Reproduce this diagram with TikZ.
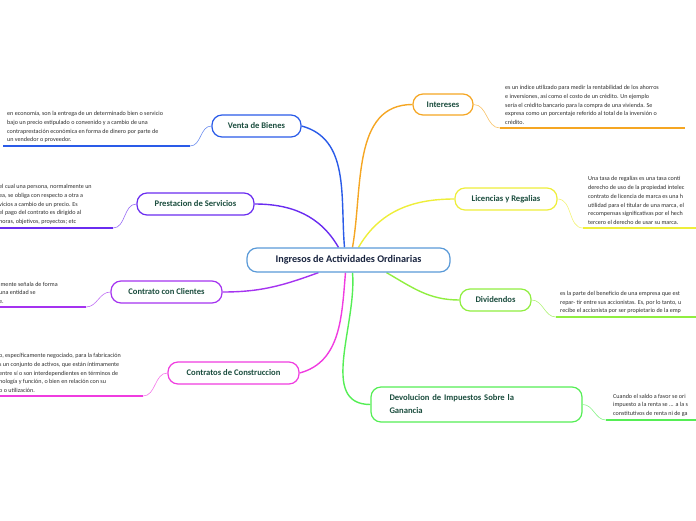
\documentclass[tikz,border=0pt]{standalone}
\usepackage{fontspec}
\setmainfont{Carlito}
\usetikzlibrary{positioning}
\usetikzlibrary{backgrounds}

\definecolor{cventa}{HTML}{2A5BE8}
\definecolor{cprest}{HTML}{6A2CF0}
\definecolor{cclien}{HTML}{A533F0}
\definecolor{cconst}{HTML}{F03CE0}
\definecolor{cinter}{HTML}{F5A623}
\definecolor{clicen}{HTML}{EEEE3A}
\definecolor{cdivid}{HTML}{90EE40}
\definecolor{cdevol}{HTML}{55EE55}
\definecolor{ccent}{HTML}{5A9AD8}
\definecolor{titlegreen}{HTML}{1B4D3E}
\definecolor{titlenavy}{HTML}{1A2540}
\definecolor{bodytext}{HTML}{2E2E2E}

\begin{document}
\begin{tikzpicture}[
                x=1pt, y=-1pt,
                topic/.style = {
                    draw=#1,
                    line width = 1.2pt,
                    rounded corners = 10pt,
                    fill = white,
                    font = \fontsize{8.6}{10}\selectfont\bfseries,
                    text = titlegreen,
                    inner xsep = 0pt,
                    inner ysep = 0pt
                },
                body/.style = {
                    anchor = south west,
                    align = left,
                    inner sep = 0pt,
                    text = bodytext,
                    font = \fontsize{6.1}{8.8}\selectfont
                },
                branch/.style = {draw=#1, line width = 1.4pt},
                twig/.style = {draw=#1!70, line width = 0.6pt},
                underline/.style = {draw=#1, line width = 1.6pt}
            ]
            \useasboundingbox (0,0) rectangle (696,520);

            % central topic
            \node[topic=ccent, minimum width=203pt, minimum height=24pt, text=titlenavy,
                  font=\fontsize{10.2}{12}\selectfont\bfseries] (center) at (348.5,260) {Ingresos de Actividades Ordinarias};

            % left topics
            \node[topic=cventa, minimum width=89pt, minimum height=22pt] (venta) at (256.5,126) {Venta de Bienes};
            \node[topic=cprest, minimum width=117pt, minimum height=22pt] (prest) at (195.5,204) {Prestacion de Servicios};
            \node[topic=cclien, minimum width=111pt, minimum height=22pt] (clien) at (166.5,292) {Contrato con Clientes};
            \node[topic=cconst, minimum width=131pt, minimum height=22pt] (const) at (233.5,373) {Contratos de Construccion};

            % right topics
            \node[topic=cinter, minimum width=60pt, minimum height=21pt] (inter) at (443,104.5) {Intereses};
            \node[topic=clicen, minimum width=102pt, minimum height=22pt] (licen) at (506,199) {Licencias y Regalias};
            \node[topic=cdivid, minimum width=71pt, minimum height=22pt] (divid) at (495.5,300) {Dividendos};
            \node[topic=cdevol, minimum width=211pt, minimum height=35pt, text width=174pt, align=left,
                  font=\fontsize{8.6}{13}\selectfont\bfseries] (devol) at (476.5,404.5) {Devolucion de Impuestos Sobre la\\Ganancia};

            % branches
            \begin{scope}[on background layer]
            \draw[branch=cventa] ([xshift=-4pt]center.north) to [out=95,in=-15] (venta.east);
            \draw[branch=cprest] ([xshift=-10pt]center.north) to [out=120,in=0] (prest.east);
            \draw[branch=cclien] ([xshift=-30pt]center.south) to [out=200,in=0] (clien.east);
            \draw[branch=cconst] ([xshift=-3pt]center.south) to [out=-95,in=15] (const.east);
            \draw[branch=cinter] ([xshift=4pt]center.north) to [out=80,in=180] (inter.west);
            \draw[branch=clicen] ([xshift=10pt]center.north) to [out=60,in=180] (licen.west);
            \draw[branch=cdivid] ([xshift=38pt]center.south) to [out=-30,in=180] (divid.west);
            \draw[branch=cdevol] ([xshift=4pt]center.south) to [out=-85,in=180] (devol.west);
            \end{scope}

            % notes, left side
            \coordinate (ventaA) at (190,146);  \coordinate (ventaB) at (3,146);
            \draw[twig=cventa] (venta.west) to [out=180,in=0] (ventaA);
            \draw[underline=cventa] (ventaA) -- (ventaB);
            \node[body] (ventaT) at (7,143) {en economía, son la entrega de un determinado bien o servicio\\bajo un precio estipulado o convenido y a cambio de una\\contraprestación económica en forma de dinero por parte de\\un vendedor o proveedor.};

            \coordinate (prestA) at (113,228);  \coordinate (prestB) at (0,228);
            \draw[twig=cprest] (prest.west) to [out=180,in=0] (prestA);
            \draw[underline=cprest] (prestA) -- (prestB);
            \node[body] (prestT) at (-1,225) {el cual una persona, normalmente un\\ea, se obliga con respecto a otra a\\vicios a cambio de un precio. Es\\el pago del contrato es dirigido al\\horas, objetivos, proyectos; etc};

            \coordinate (clienA) at (86,307);  \coordinate (clienB) at (0,307);
            \draw[twig=cclien] (clien.west) to [out=180,in=0] (clienA);
            \draw[underline=cclien] (clienA) -- (clienB);
            \node[body] (clienT) at (-1,304) {lmente señala de forma\\ una entidad se\\e.};

            \coordinate (constA) at (143,396);  \coordinate (constB) at (0,396);
            \draw[twig=cconst] (const.west) to [out=180,in=0] (constA);
            \draw[underline=cconst] (constA) -- (constB);
            \node[body] (constT) at (-1,393) {o, específicamente negociado, para la fabricación\\s un conjunto de activos, que están íntimamente\\entre sí o son interdependientes en términos de\\nología y función, o bien en relación con su\\o o utilización.};

            % notes, right side
            \coordinate (interA) at (500,128);  \coordinate (interB) at (685,128);
            \draw[twig=cinter] (inter.east) to [out=0,in=180] (interA);
            \draw[underline=cinter] (interA) -- (interB);
            \node[body] (interT) at (505,125) {es un índice utilizado para medir la rentabilidad de los ahorros\\e inversiones, así como el costo de un crédito. Un ejemplo\\sería el crédito bancario para la compra de una vivienda. Se\\expresa como un porcentaje referido al total de la inversión o\\crédito.};

            \coordinate (licenA) at (583,228);  \coordinate (licenB) at (696,228);
            \draw[twig=clicen] (licen.east) to [out=0,in=180] (licenA);
            \draw[underline=clicen] (licenA) -- (licenB);
            \node[body] (licenT) at (588,225) {Una tasa de regalías es una tasa conti\\derecho de uso de la propiedad intelec\\contrato de licencia de marca es una h\\utilidad para el titular de una marca, el\\recompensas significativas por el hech\\tercero el derecho de usar su marca.};

            \coordinate (dividA) at (556,317);  \coordinate (dividB) at (696,317);
            \draw[twig=cdivid] (divid.east) to [out=0,in=180] (dividA);
            \draw[underline=cdivid] (dividA) -- (dividB);
            \node[body] (dividT) at (560,314) {es la parte del beneficio de una empresa que est\\repar- tir entre sus accionistas. Es, por lo tanto, u\\recibe el accionista por ser propietario de la emp};

            \coordinate (devolA) at (606,420);  \coordinate (devolB) at (696,420);
            \draw[twig=cdevol] (devol.east) to [out=0,in=180] (devolA);
            \draw[underline=cdevol] (devolA) -- (devolB);
            \node[body] (devolT) at (613,417) {Cuando el saldo a favor se ori\\impuesto a la renta se ... a la s\\constitutivos de renta ni de ga};

         \end{tikzpicture}
\end{document}
